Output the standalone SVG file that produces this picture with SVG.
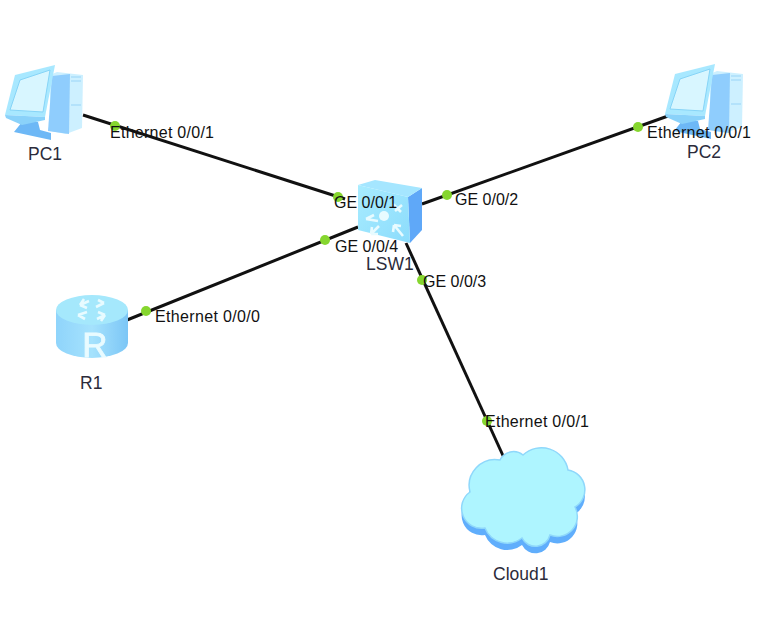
<svg xmlns="http://www.w3.org/2000/svg" width="782" height="644" viewBox="0 0 782 644">
<style>
.link{stroke:#111;stroke-width:3;fill:none}
.dot{fill:#86d62f}
text{font-family:"Liberation Sans",Arial,sans-serif;font-size:16px;fill:#111}
.name{fill:#2b2b3a;font-size:17.5px}
.arrow{stroke:#e8fbff;stroke-width:2.6;fill:none}
</style>
<defs>
<linearGradient id="rbody" x1="0" y1="0" x2="1" y2="0"><stop offset="0" stop-color="#8fd4fb"/><stop offset=".5" stop-color="#a5e2fd"/><stop offset="1" stop-color="#7cc6f6"/></linearGradient>
<linearGradient id="sw" x1="0" y1="0" x2="1" y2="1"><stop offset="0" stop-color="#a8ecff"/><stop offset="1" stop-color="#8cdcfc"/></linearGradient>
<filter id="soft" x="-5%" y="-5%" width="110%" height="110%"><feGaussianBlur stdDeviation="0.6"/></filter>
<path id="cloud" d="M500 460A15 15 0 0 1 523 455A27 27 0 0 1 568 470A20 20 0 0 1 575 507A20 20 0 0 1 550 535A15 15 0 0 1 522 538A24 24 0 0 1 485 528A20 20 0 0 1 470 492A26 26 0 0 1 500 460Z"/>
<g id="pc">
<polygon points="50,75 57,72 83,75 82,128 66,134 50,131" fill="#cdf0ff"/>
<polygon points="52,76 70,74 69,134 48,131" fill="#8fcdfd"/>
<path d="M71 77H81M71 81H81M71 105H81" stroke="#9ad4f8" stroke-width="1.2"/>
<polygon points="22,122 38,122 40,130 51,133 51,140 14,132" fill="#6db8f6"/>
<polygon points="15,75 55,65 45,117 5,115" fill="#a8e8ff"/>
<polygon points="20,80 50,70 43,112 10,110" fill="#d8f6ff" stroke="#86d4f7" stroke-width="1"/>
<polygon points="5,115 45,117 45,120 22,125 6,118" fill="#8ad2fa"/>
</g>
</defs>
<rect width="782" height="644" fill="#fff"/>
<g id="connectors">
<line class="link" x1="83" y1="115" x2="345" y2="199"/>
<line class="link" x1="668" y1="116" x2="422" y2="204"/>
<line class="link" x1="127" y1="320" x2="358" y2="227"/>
<line class="link" x1="505" y1="460" x2="406" y2="243"/>
<circle class="dot" cx="115" cy="126" r="5"/>
<circle class="dot" cx="338" cy="197" r="5"/>
<circle class="dot" cx="447" cy="195" r="5"/>
<circle class="dot" cx="638" cy="127" r="5"/>
<circle class="dot" cx="325" cy="240" r="5"/>
<circle class="dot" cx="146" cy="311" r="5"/>
<circle class="dot" cx="422" cy="280" r="5"/>
<circle class="dot" cx="487" cy="421" r="5"/>
</g>
<g id="PC1">
<use href="#pc" filter="url(#soft)"/>
<text class="name" x="28" y="160">PC1</text>
</g>
<g id="PC2">
<use href="#pc" x="660" y="-1" filter="url(#soft)"/>
<text class="name" x="687" y="158">PC2</text>
</g>
<g id="LSW1">
<g filter="url(#soft)">
<polygon points="408,197 422,188 422,230 410,243" fill="#5fa8f8"/>
<polygon points="358,185 375,180 422,188 408,197" fill="#a5e6ff"/>
<polygon points="358,185 408,197 410,243 358,230" fill="url(#sw)"/>
<circle cx="384" cy="216" r="5" fill="#e8fbff"/>
<path class="arrow" d="M395 211L402 205M393 204L401 212M366 219L378 221M366 219L374 215M371 234L379 226M371 234L372 227M371 234L378 234M394 225L403 236M394 225L393 232M394 225L401 226"/>
</g>
<text class="name" x="366" y="270">LSW1</text>
</g>
<g id="R1">
<g filter="url(#soft)">
<path d="M56 310V343A36 15 0 0 0 128 343V310Z" fill="url(#rbody)"/>
<ellipse cx="92" cy="310" rx="36" ry="15" fill="#a5e8fc"/>
<path class="arrow" d="M80 305L89 301M80 305L84 299M80 305L87 308M105 315L97 319M105 315L101 321M105 315L98 312M104 303L96 307M104 303L98 300M78 315L87 312M78 315L85 319"/>
<text x="95" y="357" text-anchor="middle" style="font-size:35px;fill:#e9fbff;stroke:#e9fbff;stroke-width:.8">R</text>
</g>
<text class="name" x="80" y="389">R1</text>
</g>
<g id="Cloud1">
<g filter="url(#soft)">
<use href="#cloud" y="7" fill="#61aefc"/>
<use href="#cloud" fill="#aef5ff" stroke="#8fd8fb" stroke-width="1.5"/>
</g>
<text class="name" x="493" y="580">Cloud1</text>
</g>
<g id="labels">
<text x="110" y="138" textLength="104">Ethernet 0/0/1</text>
<text x="647" y="138" textLength="104">Ethernet 0/0/1</text>
<text x="334" y="208">GE 0/0/1</text>
<text x="455" y="205">GE 0/0/2</text>
<text x="335" y="252">GE 0/0/4</text>
<text x="423" y="287">GE 0/0/3</text>
<text x="155" y="322" textLength="105">Ethernet 0/0/0</text>
<text x="485" y="427" textLength="104">Ethernet 0/0/1</text>
</g>
</svg>
